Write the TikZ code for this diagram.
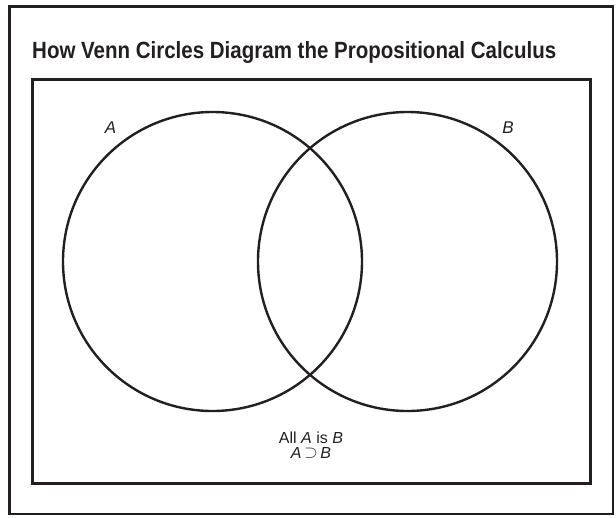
\documentclass[tikz,border=0pt]{standalone}
\usepackage{fontspec}
\setmainfont{Liberation Sans}
\usepackage{graphicx}
\definecolor{ink}{HTML}{231F20}
\begin{document}
\begin{tikzpicture}[x=1pt,y=-1pt,
  frame/.style={draw=ink,line width=2.6pt},
  inner/.style={draw=ink,line width=3pt},
  venn/.style={draw=ink,line width=2.4pt},
  lab/.style={text=ink,inner sep=0pt,font=\fontsize{17}{20}\selectfont\itshape},
  note/.style={text=ink,inner sep=0pt,text height=11.5pt,text depth=0pt,font=\fontsize{16}{15}\selectfont}]
\useasboundingbox (0,0) rectangle (616,517);
\draw[frame] (9.5,6.5) rectangle (613,514) ;
\node[anchor=base west,inner sep=0pt,text=ink] (title) at (32,58)
  {\resizebox{524pt}{17pt}{\bfseries How Venn Circles Diagram the Propositional Calculus}};
\draw[inner] (32,79.5) rectangle (590,483);
\node[venn,circle,minimum size=299pt,inner sep=0pt] (cA) at (212.5,261.5) {};
\node[venn,circle,minimum size=299pt,inner sep=0pt] (cB) at (407.5,261.5) {};
\node[lab,anchor=base] (lA) at (110.5,133) {A};
\node[lab,anchor=base] (lB) at (508,133) {B};
\node[note,anchor=base] (n1) at (311,443) {All \textit{A} is \textit{B}};
\node[note,anchor=base] (n2) at (311,458) {\textit{A}\,\raisebox{0.3pt}{\smash{$\supset$}}\,\textit{B}};
\end{tikzpicture}
\end{document}
